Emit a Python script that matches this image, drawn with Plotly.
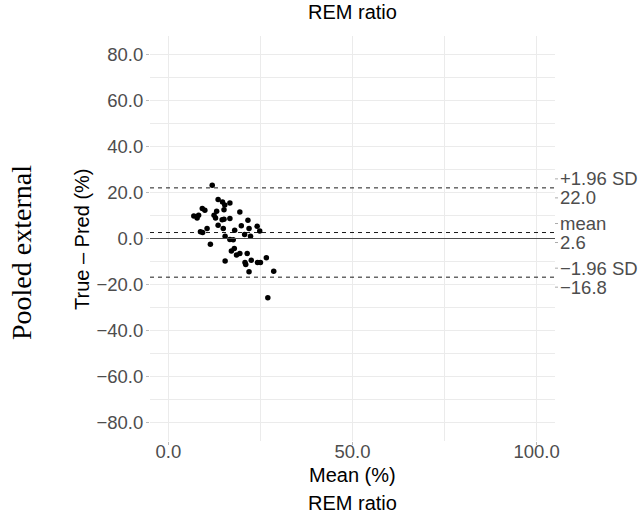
import plotly.graph_objects as go

# ---- data ----
mean_pct = [11.9, 13.5, 14.7, 15.3, 16.7, 15.1, 13.1, 9.2, 9.9, 6.9, 7.8, 8.2, 12.4, 12.8,
            14.6, 15.1, 16.7, 19.4, 13.5, 10.5, 8.7, 9.3, 14.9, 15.4, 18.0, 19.8, 21.6, 21.9,
            22.3, 20.7, 24.1, 24.8, 16.7, 17.6, 11.4, 17.1, 17.9, 18.5, 19.4, 21.4, 15.4,
            20.8, 21.0, 22.5, 24.2, 25.0, 26.6, 21.9, 28.6, 27.0]
diff_pct = [23.1, 16.9, 15.9, 14.6, 15.4, 12.5, 11.8, 13.0, 12.3, 9.8, 8.9, 10.1, 10.1, 8.9,
            8.2, 8.4, 8.7, 11.5, 5.8, 4.3, 2.9, 2.6, 4.3, 1.0, 3.6, 5.5, 7.9, 4.3,
            1.0, 1.7, 5.3, 3.3, -0.4, -0.5, -2.5, -5.4, -4.3, -7.2, -6.5, -6.5, -9.8,
            -10.4, -11.3, -9.4, -10.4, -10.4, -8.4, -14.5, -14.2, -25.8]

bias = 2.6
upper_loa = 22.0
lower_loa = -16.8
line_names = ["+1.96 SD", "mean", "\u22121.96 SD"]
line_values = [upper_loa, bias, lower_loa]
line_value_text = ["22.0", "2.6", "\u221216.8"]

x_ticks = [0, 50, 100]
x_ticktext = ["0.0", "50.0", "100.0"]
y_ticks = [-80, -60, -40, -20, 0, 20, 40, 60, 80]
y_ticktext = ["\u221280.0", "\u221260.0", "\u221240.0", "\u221220.0", "0.0", "20.0", "40.0", "60.0", "80.0"]

title_text = "REM ratio"
x_title = "Mean (%)"
y_title = "True \u2013 Pred (%)"
row_label = "Pooled external"

# ---- layout constants ----
W, H = 642, 517
L, R, T, B = 150, 87, 36, 76
PH = H - T - B
SANS = "Liberation Sans, Arial, sans-serif"
GREY = "#4d4d4d"

fig = go.Figure()
fig.add_trace(go.Scatter(x=mean_pct, y=diff_pct, mode="markers",
                         marker=dict(color="black", size=5.5, line=dict(width=0)),
                         showlegend=False, hoverinfo="skip"))

shapes = []
# zero line
shapes.append(dict(type="line", xref="paper", x0=0, x1=1, yref="y", y0=0, y1=0,
                   line=dict(color=GREY, width=1.1), layer="above"))
for v in line_values:
    shapes.append(dict(type="line", xref="paper", x0=0, x1=1, yref="y", y0=v, y1=v,
                       line=dict(color="black", width=0.9, dash="4px,4px"), layer="above"))

annotations = []
for name, v, vt in zip(line_names, line_values, line_value_text):
    for txt, shift in ((name, 9), (vt, -10)):
        annotations.append(dict(text=txt, xref="paper", x=1, xanchor="left", xshift=3,
                                yref="y", y=v, yanchor="middle", yshift=shift, showarrow=False,
                                font=dict(family=SANS, size=18.5, color=GREY)))
        shapes.append(dict(type="line", xref="paper", xsizemode="pixel", xanchor=1,
                           x0=0, x1=3, yref="y", ysizemode="pixel", yanchor=v,
                           y0=shift, y1=shift,
                           line=dict(color="#aaaaaa", width=1)))

def py(p):
    # pixel y (from top) -> paper y
    return (H - B - p) / PH

def px(p):
    return (p - L) / (W - L - R)

annotations += [
    dict(text=title_text, xref="paper", yref="paper", x=0.5, y=py(12), xanchor="center",
         yanchor="middle", showarrow=False, font=dict(family=SANS, size=20, color="black")),
    dict(text=x_title, xref="paper", yref="paper", x=0.5, y=py(475), xanchor="center",
         yanchor="middle", showarrow=False, font=dict(family=SANS, size=20, color="black")),
    dict(text=title_text, xref="paper", yref="paper", x=0.5, y=py(503), xanchor="center",
         yanchor="middle", showarrow=False, font=dict(family=SANS, size=20, color="black")),
    dict(text=y_title, xref="paper", yref="paper", x=px(82), y=py(239), xanchor="center",
         yanchor="middle", textangle=-90, showarrow=False,
         font=dict(family=SANS, size=20, color="black")),
    dict(text=row_label, xref="paper", yref="paper", x=px(21), y=py(253), xanchor="center",
         yanchor="middle", textangle=-90, showarrow=False,
         font=dict(family="Liberation Serif, serif", size=28, color="black")),
]

fig.update_layout(
    width=W, height=H, margin=dict(l=L, r=R, t=T, b=B),
    paper_bgcolor="white", plot_bgcolor="white",
    shapes=shapes, annotations=annotations,
    xaxis=dict(range=[-5, 105], tickvals=x_ticks, ticktext=x_ticktext,
               showgrid=True, gridcolor="#ebebeb", gridwidth=1.1,
               minor=dict(tickvals=[25, 75], showgrid=True, gridcolor="#ebebeb", gridwidth=0.8),
               zeroline=False, showline=False,
               ticks="outside", ticklen=3, tickcolor="#bbbbbb", ticklabelstandoff=-9,
               tickfont=dict(family=SANS, size=18.5, color=GREY)),
    yaxis=dict(range=[-88, 88], tickvals=y_ticks, ticktext=y_ticktext,
               showgrid=True, gridcolor="#ebebeb", gridwidth=1.1,
               minor=dict(tickvals=[-70, -50, -30, -10, 10, 30, 50, 70], showgrid=True,
                          gridcolor="#ebebeb", gridwidth=0.8),
               zeroline=False, showline=False,
               ticks="outside", ticklen=3, tickcolor="#bbbbbb", ticklabelstandoff=-1,
               tickfont=dict(family=SANS, size=18.5, color=GREY)),
)

fig.write_html("out.html")
